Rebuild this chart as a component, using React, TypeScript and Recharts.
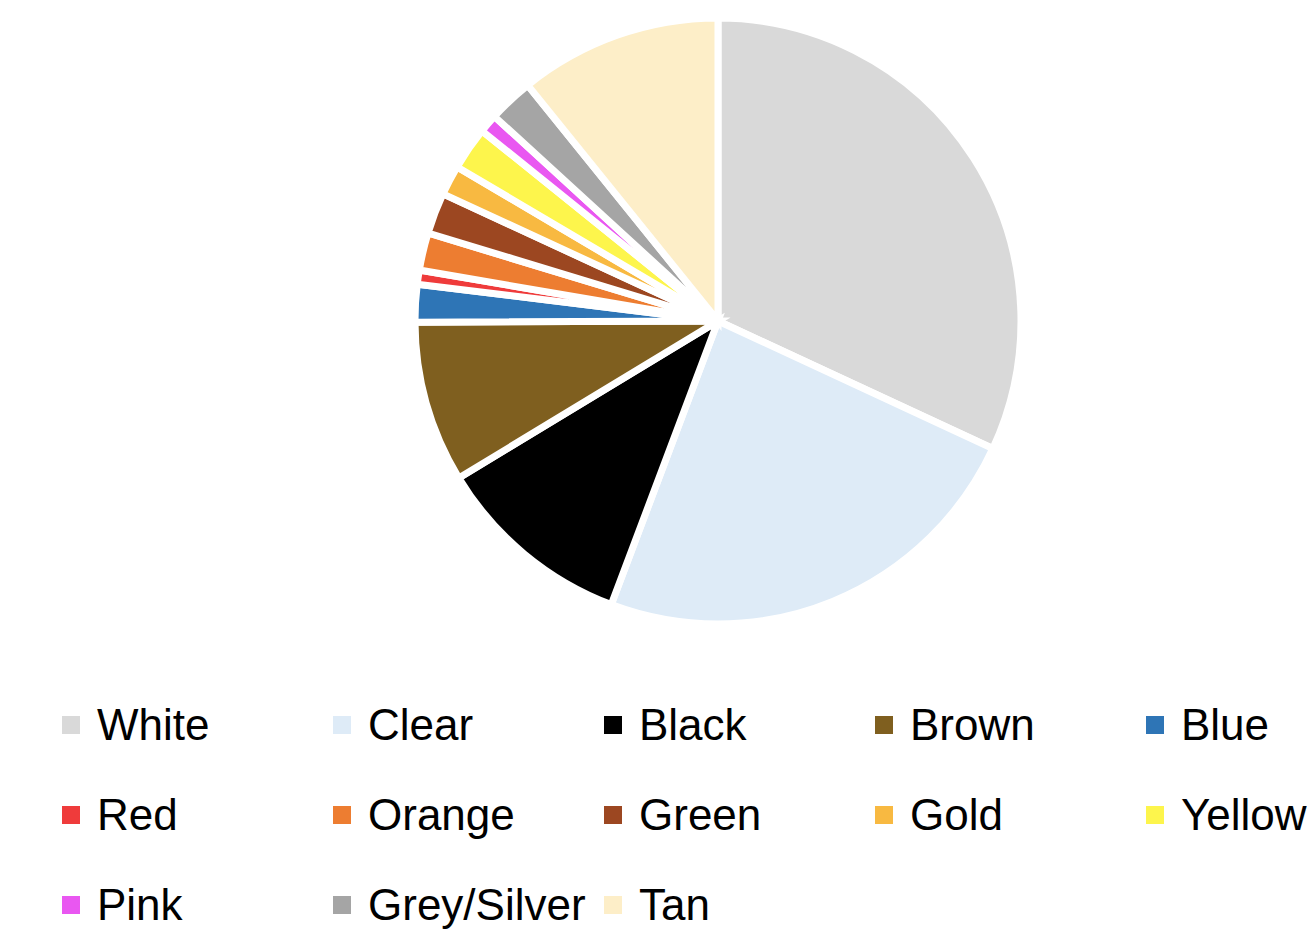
import { Legend, Pie, PieChart, Cell } from 'recharts';

const colours = ['White', 'Clear', 'Black', 'Brown', 'Blue', 'Red', 'Orange', 'Green', 'Gold', 'Yellow', 'Pink', 'Grey/Silver', 'Tan'];
const shares = [31.9, 23.8, 10.6, 8.6, 2.0, 0.75, 2.0, 2.2, 1.6, 2.3, 1.0, 2.4, 10.8];
const fills = ['#d9d9d9', '#deebf7', '#000000', '#7f5f1f', '#2e75b6', '#ef3b3b', '#ed7d31', '#9c4721', '#f8b941', '#fdf54c', '#e957f1', '#a5a5a5', '#fdeec8'];

const data = colours.map((name, i) => ({ name, value: shares[i] }));

function LegendGrid() {
  return (
    <div style={{ display: 'grid', gridTemplateColumns: 'repeat(5, 271px)', rowGap: 0, paddingLeft: 62 }}>
      {colours.map((name, i) => (
        <div key={name} style={{ display: 'flex', alignItems: 'center', height: 90, whiteSpace: 'nowrap' }}>
          <span style={{ width: 18, height: 18, background: fills[i], marginRight: 17, flex: 'none' }} />
          <span style={{ fontFamily: '"Liberation Sans", Arial, sans-serif', fontSize: 44, color: '#000', lineHeight: 1 }}>{name}</span>
        </div>
      ))}
    </div>
  );
}

export default function App() {
  return (
    <div style={{ position: 'absolute', left: 0, top: 0, width: 1307, height: 936, overflow: 'hidden', background: '#fff' }}>
      <PieChart width={1307} height={936} margin={{ top: 0, right: 0, bottom: 0, left: 0 }}>
        <Pie
          data={data}
          dataKey="value"
          nameKey="name"
          cx={718}
          cy={321}
          outerRadius={303}
          startAngle={90}
          endAngle={-270}
          stroke="#ffffff"
          strokeWidth={7}
          isAnimationActive={false}
        >
          {data.map((d, i) => (
            <Cell key={d.name} fill={fills[i]} />
          ))}
        </Pie>
        <Legend content={() => <LegendGrid />} wrapperStyle={{ left: 0, top: 680, width: 1307 }} />
      </PieChart>
    </div>
  );
}
